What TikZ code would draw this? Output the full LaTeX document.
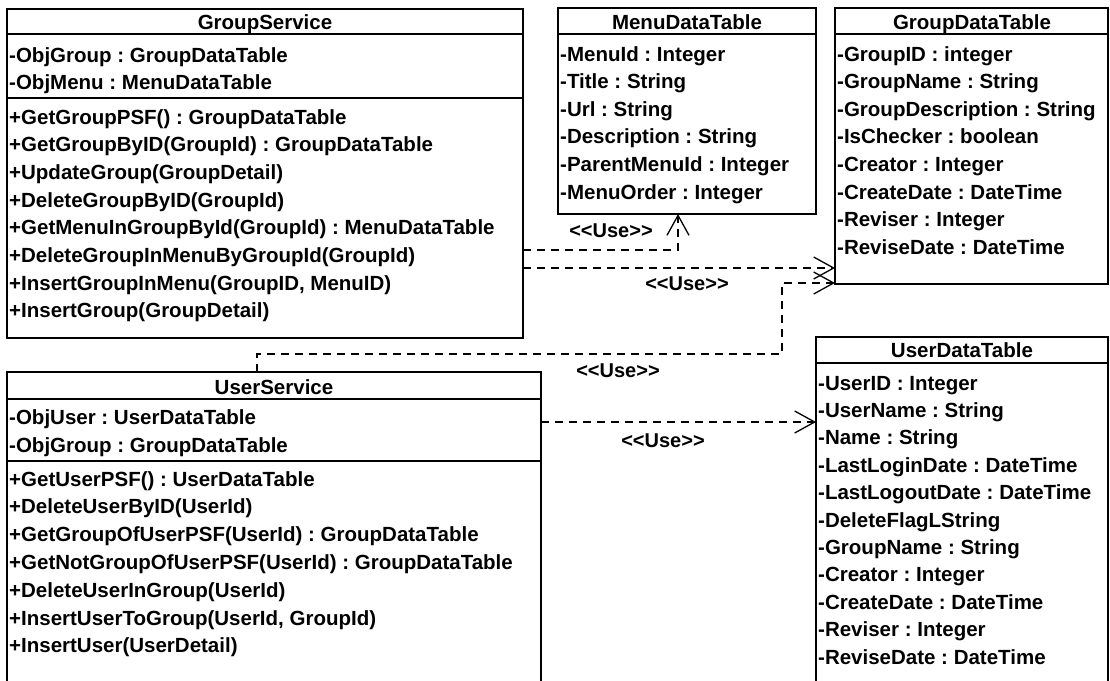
\documentclass[tikz,border=0pt]{standalone}
\usepackage{fontspec}
\setmainfont{Liberation Sans}
\usetikzlibrary{arrows.meta}
\frenchspacing
\newcommand{\uselbl}{<\kern0pt<Use>\kern0pt>}
\begin{document}
\begin{tikzpicture}[x=1pt,y=-1pt,
  classbox/.style={draw, line width=1.5pt, rectangle, anchor=north west, inner sep=0pt, outer sep=0pt},
  rowtext/.style={anchor=base west, inner sep=0pt, font=\fontsize{20.5}{24}\bfseries\selectfont},
  titletext/.style={anchor=base, inner sep=0pt, font=\fontsize{20.5}{24}\bfseries\selectfont},
  sepline/.style={line width=1.5pt},
  uses/.style={dash pattern=on 8pt off 6pt, line width=1.3pt},
  usetip/.style={-{Straight Barb[length=20pt,width=22pt,line width=1.3pt]}},
  uselabel/.style={anchor=base, inner sep=0pt, font=\fontsize{20}{24}\bfseries\selectfont}
]
\useasboundingbox (0,0) rectangle (1110,680);
\fill[white] (0,0) rectangle (1110,680);

% ---------- GroupService ----------
\node[classbox, minimum width=516pt, minimum height=329pt] (gs) at (7,9) {};
\draw[sepline] (7,34) -- (523,34);
\draw[sepline] (7,98) -- (523,98);
\node[titletext] (gst) at (265,29) {GroupService};
\node[rowtext] (gsa1) at (9,62) {-ObjGroup : GroupDataTable};
\node[rowtext] (gsa2) at (9,89.5) {-ObjMenu : MenuDataTable};
\foreach \t [count=\i from 0] in {
  {+GetGroupPSF() : GroupDataTable},
  {+GetGroupByID(GroupId) : GroupDataTable},
  {+UpdateGroup(GroupDetail)},
  {+DeleteGroupByID(GroupId)},
  {+GetMenuInGroupById(GroupId) : MenuDataTable},
  {+DeleteGroupInMenuByGroupId(GroupId)},
  {+InsertGroupInMenu(GroupID, MenuID)},
  {+InsertGroup(GroupDetail)}}
  \node[rowtext] (gsm\i) at (9,124+27.7*\i) {\t};

% ---------- MenuDataTable ----------
\node[classbox, minimum width=258pt, minimum height=206pt] (md) at (558,8) {};
\draw[sepline] (558,34) -- (816,34);
\node[titletext] (mdt) at (687,29) {MenuDataTable};
\foreach \t [count=\i from 0] in {
  {-MenuId : Integer},
  {-Title : String},
  {-Url : String},
  {-Description : String},
  {-ParentMenuId : Integer},
  {-MenuOrder : Integer}}
  \node[rowtext] (mda\i) at (560,61+27.6*\i) {\t};

% ---------- GroupDataTable ----------
\node[classbox, minimum width=273pt, minimum height=276pt] (gd) at (835,8) {};
\draw[sepline] (835,34) -- (1108,34);
\node[titletext] (gdt) at (972,29) {GroupDataTable};
\foreach \t [count=\i from 0] in {
  {-GroupID : integer},
  {-GroupName : String},
  {-GroupDescription : String},
  {-IsChecker : boolean},
  {-Creator : Integer},
  {-CreateDate : DateTime},
  {-Reviser : Integer},
  {-ReviseDate : DateTime}}
  \node[rowtext] (gda\i) at (837,61+27.6*\i) {\t};

% ---------- UserService ----------
\node[classbox, minimum width=534pt, minimum height=330pt] (us) at (7,372) {};
\draw[sepline] (7,399) -- (541,399);
\draw[sepline] (7,461) -- (541,461);
\node[titletext] (ust) at (274,394) {UserService};
\node[rowtext] (usa1) at (9,424) {-ObjUser : UserDataTable};
\node[rowtext] (usa2) at (9,452) {-ObjGroup : GroupDataTable};
\foreach \t [count=\i from 0] in {
  {+GetUserPSF() : UserDataTable},
  {+DeleteUserByID(UserId)},
  {+GetGroupOfUserPSF(UserId) : GroupDataTable},
  {+GetNotGroupOfUserPSF(UserId) : GroupDataTable},
  {+DeleteUserInGroup(UserId)},
  {+InsertUserToGroup(UserId, GroupId)},
  {+InsertUser(UserDetail)}}
  \node[rowtext] (usm\i) at (9,486+27.8*\i) {\t};

% ---------- UserDataTable ----------
\node[classbox, minimum width=292pt, minimum height=360pt] (ud) at (816,337) {};
\draw[sepline] (816,363) -- (1108,363);
\node[titletext] (udt) at (962,357.5) {UserDataTable};
\foreach \t [count=\i from 0] in {
  {-UserID : Integer},
  {-UserName : String},
  {-Name : String},
  {-LastLoginDate : DateTime},
  {-LastLogoutDate : DateTime},
  {-DeleteFlagLString},
  {-GroupName : String},
  {-Creator : Integer},
  {-CreateDate : DateTime},
  {-Reviser : Integer},
  {-ReviseDate : DateTime}}
  \node[rowtext] (uda\i) at (818,390+27.4*\i) {\t};

% ---------- connectors ----------
\coordinate (a0) at ([yshift=-241pt]gs.north east);
\coordinate (a1) at ([xshift=120pt]md.south west);
\draw[uses, usetip] (a0) -| (a1);
\node[uselabel] (la) at (611,237) {\uselbl};

\coordinate (b0) at ([yshift=-259pt]gs.north east);
\draw[uses, usetip] (b0) -- (b0 -| gd.west);
\node[uselabel] (lb) at (687,290) {\uselbl};

\coordinate (c0) at ([xshift=250pt]us.north west);
\coordinate (cb) at (782,354);
\coordinate (c1) at ([yshift=-275pt]gd.north west);
\draw[uses, usetip] (c0) |- (cb) |- (c1);
\node[uselabel] (lc) at (618,377) {\uselbl};

\coordinate (d0) at ([yshift=-50pt]us.north east);
\draw[uses, usetip] (d0) -- (d0 -| ud.west);
\node[uselabel] (ld) at (663,447) {\uselbl};
\end{tikzpicture}
\end{document}
